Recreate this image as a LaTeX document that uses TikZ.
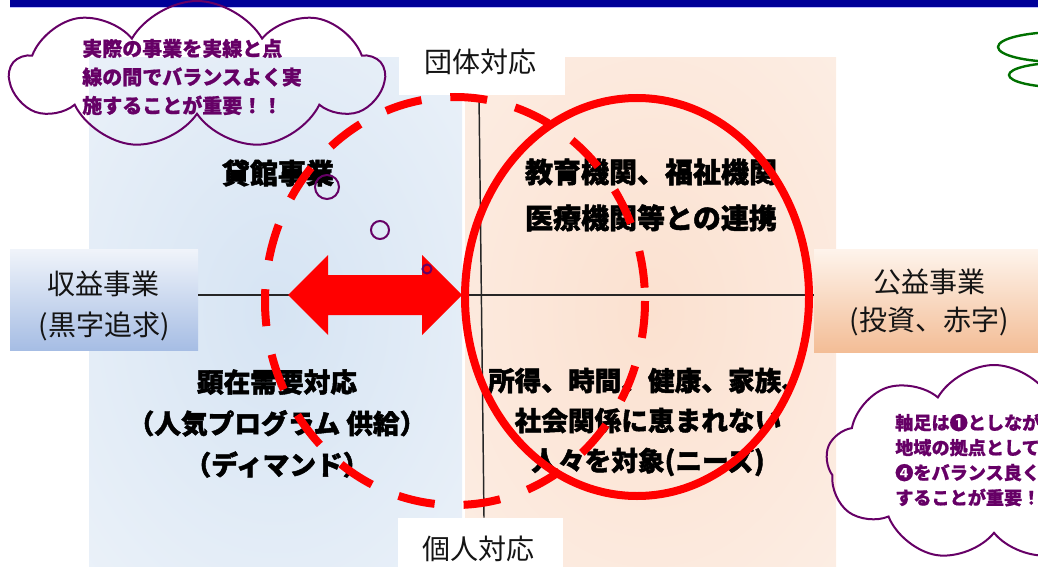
\documentclass[tikz,border=0pt]{standalone}
\usepackage{fontspec}
\newfontfamily\jp{Noto Sans CJK JP}
\newfontfamily\jph{Noto Sans CJK JP}[BoldFeatures={FakeBold=1.6}]
\newfontfamily\jpm{Noto Sans CJK JP}[BoldFeatures={FakeBold=0.8}]
\usetikzlibrary{shapes.symbols}
\definecolor{barblue}{RGB}{0,0,153}
\definecolor{cloudpurple}{RGB}{102,0,102}
\definecolor{cloudgreen}{RGB}{0,112,0}
\definecolor{lcen}{RGB}{214,228,243}
\definecolor{ledge}{RGB}{242,246,251}
\definecolor{rcen}{RGB}{251,225,208}
\definecolor{redge}{RGB}{253,242,235}
\definecolor{lboxtop}{RGB}{240,244,250}
\definecolor{lboxbot}{RGB}{166,189,228}
\definecolor{rboxtop}{RGB}{254,244,236}
\definecolor{rboxbot}{RGB}{243,189,150}
\definecolor{labtext}{RGB}{20,20,20}
\pgfdeclareradialshading{lpanel}{\pgfpoint{0bp}{0bp}}{color(0bp)=(lcen); color(50bp)=(ledge); color(70bp)=(ledge)}
\pgfdeclareradialshading{rpanel}{\pgfpoint{0bp}{0bp}}{color(0bp)=(rcen); color(50bp)=(redge); color(70bp)=(redge)}
\tikzset{
  qtext/.style={font=\jph\bfseries\fontsize{21}{31}\selectfont, text=black, align=center, inner sep=0pt},
  labtxt/.style={font=\jp\fontsize{21}{31}\selectfont, text=labtext, align=center, inner sep=0pt},
  whitebox/.style={fill=white, draw=none, inner sep=0pt},
  cloudline/.style={draw=cloudpurple, line width=1.5pt},
  cloudtext/.style={font=\jpm\bfseries, text=cloudpurple, align=left, inner sep=0pt},
  bubble/.style={circle, draw=cloudpurple, line width=1.5pt, inner sep=0pt},
  redline/.style={draw=red, line width=6pt},
}
\begin{document}
\begin{tikzpicture}[x=0.75pt,y=-0.75pt]
\useasboundingbox (0,0) rectangle (1038,567);
\clip (0,0) rectangle (1038,567);
% background panels
\shade[shading=lpanel] (89,58) rectangle (462,567);
\shade[shading=rpanel] (465,58) rectangle (836,567);
% top bar
\fill[barblue] (10,0) rectangle (1038,7);
\draw[blue!25, line width=0.75pt] (10,7.5) -- (1038,7.5);
% axis labels
\node[whitebox, minimum width=166*0.75pt, minimum height=45*0.75pt] (tbox) at (482,72.5) {};
\node[labtxt] (tlab) at (480,62) {団体対応};
\node[whitebox, minimum width=165*0.75pt, minimum height=49*0.75pt] (bbox) at (480.5,542.5) {};
\node[labtxt] (blab) at (478,549) {個人対応};
% left / right boxes
\node[draw=none, inner sep=0pt, minimum width=188*0.75pt, minimum height=101*0.75pt,
      top color=lboxtop, bottom color=lboxbot] (lbox) at (104,299.5) {};
\node[labtxt, font=\jp\fontsize{21}{30.75}\selectfont] (ltxt) at (104,305.5) {収益事業\\(黒字追求)};
\node[draw=none, inner sep=0pt, minimum width=224*0.75pt, minimum height=103*0.75pt,
      top color=rboxtop, bottom color=rboxbot] (rbox) at (926,300.5) {};
\node[labtxt, font=\jp\fontsize{21}{28.5}\selectfont] (rtxt) at (929,302) {公益事業\\(投資、赤字)};
% axes
\draw[black!85, line width=1.1pt] (lbox.east |- 0,295) -- (rbox.west |- 0,295);
\draw[black!85, line width=1.1pt] ([xshift=-3*0.75pt]tbox.south) -- ([xshift=3.5*0.75pt]bbox.north);
% quadrant texts
\node[qtext] (q1) at (278,173) {貸館事業};
\node[qtext, font=\jph\bfseries\fontsize{21}{34.5}\selectfont] (q2) at (651,195) {教育機関、福祉機関\\医療機関等との連携};
\node[qtext, font=\jph\bfseries\fontsize{20}{31}\selectfont] (q3) at (277,423.5) {顕在需要対応\\（人気プログラム 供給）\\（ディマンド）};
\node[qtext, font=\jph\bfseries\fontsize{20}{30}\selectfont] (q4) at (648,422) {所得、時間、健康、家族、\\社会関係に恵まれない\\人々を対象(ニーズ)};
% ellipses
\draw[redline, dash pattern=on 27.75pt off 21.75pt] (455,301) ellipse [x radius=190, y radius=204];
\draw[redline] (637,297) ellipse [x radius=172, y radius=199];
% double arrow
\fill[red] (288,295) -- (328,255) -- (328,275) -- (422,275) -- (422,255) -- (462,295)
  -- (422,335) -- (422,315) -- (328,315) -- (328,335) -- cycle;
% thought bubbles
\node[bubble, minimum size=24*0.75pt] (b1) at (327,187) {};
\node[bubble, minimum size=18*0.75pt] (b2) at (380,230) {};
\node[bubble, minimum size=9*0.75pt] (b3) at (427,269) {};
% top-left cloud
\node[cloud, cloudline, cloud puffs=9, cloud puff arc=120, aspect=2.5,
      minimum width=373*0.75pt, minimum height=148*0.75pt, inner sep=0pt] (c1) at (197,75) {};
\node[cloudtext, font=\jpm\bfseries\fontsize{15}{21.4}\selectfont, anchor=west] (c1t) at (82,77)
  {実際の事業を実線と点\\線の間でバランスよく実\\施することが重要！！};
% bottom-right cloud
\node[cloud, cloudline, cloud puffs=9, cloud puff arc=120, aspect=1.7,
      minimum width=336*0.75pt, minimum height=196*0.75pt, inner sep=0pt] (c2) at (994,463) {};
\node[cloudtext, font=\jpm\bfseries\fontsize{13.6}{18.75}\selectfont, anchor=west] (c2t) at (895,460)
  {軸足は❶としなが\\地域の拠点として\\❹をバランス良く\\することが重要！};
% green cloud (top right, cut off)
\draw[cloudgreen, line width=1.8pt] (1060,47) ellipse [x radius=62, y radius=15];
\draw[cloudgreen, line width=1.8pt] (1065,75) ellipse [x radius=56, y radius=12.5];
\end{tikzpicture}
\end{document}
